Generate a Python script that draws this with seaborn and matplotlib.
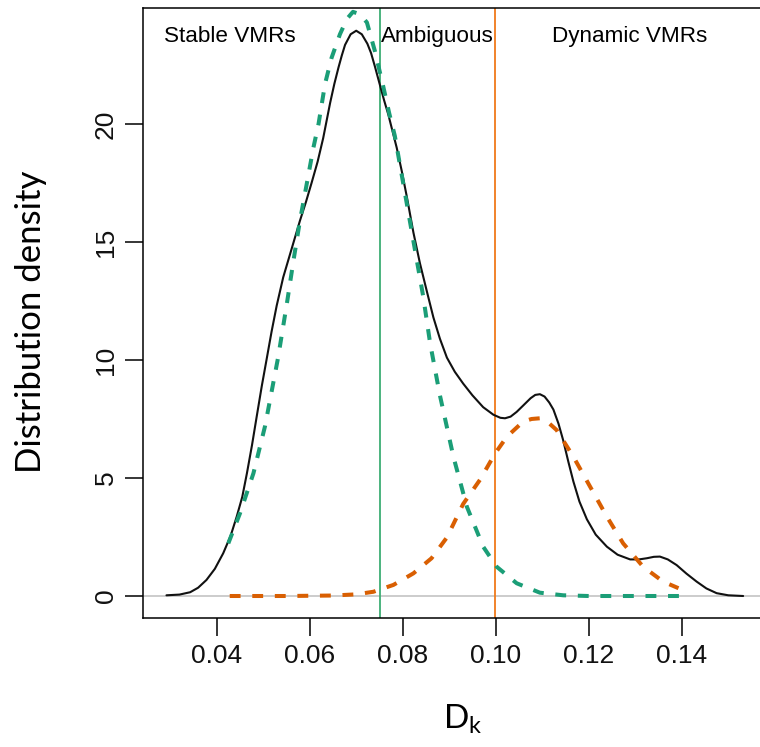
import numpy as np
import pandas as pd
import matplotlib
matplotlib.use("Agg")
import matplotlib.pyplot as plt
import seaborn as sns

# Overall density of D_k
kde_x = [0.0292, 0.0320, 0.0343, 0.0360, 0.0378, 0.0396, 0.0414, 0.0430, 0.0443,
         0.0455, 0.0465, 0.0476, 0.0486, 0.0497, 0.0508, 0.0518, 0.0529, 0.0543,
         0.0558, 0.0570, 0.0579, 0.0592, 0.0604, 0.0617, 0.0629, 0.0637, 0.0644,
         0.0653, 0.0662, 0.0669, 0.0676, 0.0688, 0.0700, 0.0712, 0.0724, 0.0732,
         0.0740, 0.0751, 0.0760, 0.0769, 0.0787, 0.0798, 0.0809, 0.0823, 0.0837,
         0.0852, 0.0866, 0.0880, 0.0895, 0.0912, 0.0930, 0.0950, 0.0973, 0.0995,
         0.1010, 0.1020, 0.1032, 0.1045, 0.1058, 0.1075, 0.1085, 0.1095, 0.1105,
         0.1115, 0.1124, 0.1135, 0.1145, 0.1156, 0.1167, 0.1180, 0.1196, 0.1215,
         0.1239, 0.1262, 0.1289, 0.1308, 0.1325, 0.1340, 0.1353, 0.1370, 0.1389,
         0.1410, 0.1432, 0.1453, 0.1475, 0.1500, 0.1532]
kde_y = [0.03, 0.06, 0.16, 0.35, 0.68, 1.15, 1.81, 2.55, 3.36,
         4.2, 5.2, 6.4, 7.6, 8.9, 10.1, 11.2, 12.3, 13.5,
         14.5, 15.3, 15.9, 16.7, 17.5, 18.4, 19.4, 20.2, 20.9,
         21.7, 22.4, 22.9, 23.35, 23.8, 23.95, 23.8, 23.4, 23.0,
         22.45, 21.65, 21.0, 20.4, 19.0, 18.0, 16.9, 15.4, 14.1,
         12.9, 11.8, 10.9, 10.1, 9.5, 9.0, 8.5, 8.0, 7.68,
         7.55, 7.53, 7.6, 7.8, 8.05, 8.38, 8.52, 8.55, 8.45,
         8.2, 7.9, 7.3, 6.6, 5.7, 4.85, 4.0, 3.25, 2.6,
         2.09, 1.75, 1.55, 1.55, 1.6, 1.66, 1.67, 1.55, 1.31,
         0.95, 0.61, 0.32, 0.12, 0.03, 0.0]

# Mixture component: stable VMRs
stable_x = [0.0425, 0.0450, 0.0479, 0.0504, 0.0532, 0.0551, 0.0565, 0.0579, 0.0594,
            0.0608, 0.0619, 0.0633, 0.0647, 0.0665, 0.0680, 0.0693, 0.0708, 0.0723,
            0.0740, 0.0758, 0.0771, 0.0783, 0.0809, 0.0826, 0.0844, 0.0859, 0.0880,
            0.0909, 0.0938, 0.0973, 0.1002, 0.1045, 0.1095, 0.1145, 0.1200, 0.1300,
            0.1396]
stable_y = [2.23, 3.5, 5.2, 7.2, 10.1, 12.4, 14.2, 15.9, 17.5,
            19.0, 20.0, 21.7, 22.8, 23.8, 24.45, 24.75, 24.65, 24.3,
            23.1, 21.6, 20.45, 19.5, 16.6, 14.7, 12.7, 10.7, 8.5,
            5.9, 3.78, 2.09, 1.24, 0.54, 0.14, 0.03, 0.0, 0.0,
            0.0]

# Mixture component: dynamic VMRs
dynamic_x = [0.0428, 0.0550, 0.0650, 0.0700, 0.0737, 0.0780, 0.0823, 0.0862, 0.0895,
             0.0930, 0.0966, 0.0999, 0.1024, 0.1059, 0.1077, 0.1095, 0.1113, 0.1131,
             0.1167, 0.1203, 0.1239, 0.1274, 0.1317, 0.1360, 0.1393]
dynamic_y = [0.0, 0.0, 0.02, 0.07, 0.18, 0.47, 0.96, 1.6, 2.48,
             3.9, 4.92, 6.05, 6.75, 7.39, 7.5, 7.53, 7.35, 7.03,
             5.9, 4.63, 3.36, 2.23, 1.24, 0.61, 0.33]

# Class thresholds on D_k
cut_stable = 0.0752
cut_dynamic = 0.0998

region_labels = ["Stable VMRs", "Ambiguous", "Dynamic VMRs"]
region_x = [0.0429, 0.0874, 0.1289]
region_y = 23.49

x_ticks = [0.04, 0.06, 0.08, 0.10, 0.12, 0.14]
x_ticklabels = ["0.04", "0.06", "0.08", "0.10", "0.12", "0.14"]
y_ticks = [0, 5, 10, 15, 20]

sns.set_theme(style="white")
plt.rcParams["font.family"] = ["Liberation Sans", "DejaVu Sans"]
plt.rcParams["mathtext.fontset"] = "custom"
plt.rcParams["mathtext.rm"] = "Lato"

GREEN = "#1B9E77"
ORANGE = "#D95F02"

fig = plt.figure(figsize=(7.6, 7.47), dpi=100)
W, H = 760, 747
AX_L, AX_R, AX_T, AX_B = 142.7, 765.0, 8.3, 618.0
ax = fig.add_axes([AX_L / W, (H - AX_B) / H, (AX_R - AX_L) / W, (AX_B - AX_T) / H])

ax.axhline(0, color="#BEBEBE", lw=1.1, zorder=1)

kde_df = pd.DataFrame({"x": kde_x, "y": kde_y})
stable_df = pd.DataFrame({"x": stable_x, "y": stable_y})
dynamic_df = pd.DataFrame({"x": dynamic_x, "y": dynamic_y})

sns.lineplot(data=kde_df, x="x", y="y", ax=ax, color="#111111", lw=1.5,
             estimator=None, zorder=3)
sns.lineplot(data=stable_df, x="x", y="y", ax=ax, color=GREEN, lw=2.9,
             estimator=None, zorder=4)
sns.lineplot(data=dynamic_df, x="x", y="y", ax=ax, color=ORANGE, lw=2.9,
             estimator=None, zorder=4)
for line in ax.lines[-2:]:
    line.set_dashes([2.7, 2.9])
    line.set_dash_capstyle("butt")
    line.set_solid_joinstyle("round")
ax.lines[-3].set_solid_joinstyle("round")

ax.axvline(cut_stable, color="#3DAE74", lw=1.3, zorder=2)
ax.axvline(cut_dynamic, color="#F07A1A", lw=1.3, zorder=2)

for label, xc in zip(region_labels, region_x):
    ax.text(xc, region_y, label, ha="center", va="baseline", fontsize=16.2,
            color="black", family=["Liberation Sans", "DejaVu Sans"])

ax.set_xlim(0.02409, 0.1579)
ax.set_ylim(-0.932, 24.90)
ax.set_xticks(x_ticks)
ax.set_xticklabels(x_ticklabels)
ax.set_yticks(y_ticks)

for side in ["left", "bottom", "top", "right"]:
    ax.spines[side].set_visible(True)
    ax.spines[side].set_color("black")
    ax.spines[side].set_linewidth(1.1)

ax.tick_params(axis="both", which="major", direction="out", length=13,
               width=1.1, color="black", labelsize=19, labelcolor="#111111",
               pad=6, bottom=True, left=True)
ax.tick_params(axis="y", pad=5)
for lab in ax.get_yticklabels():
    lab.set_rotation(90)
    lab.set_va("center")
    lab.set_ha("right")

ax.set_ylabel("Distribution density", fontsize=25, family=["Lato", "DejaVu Sans"],
              color="black")
ax.yaxis.set_label_coords((47 - AX_L) / (AX_R - AX_L), (AX_B - 322) / (AX_B - AX_T))
ax.set_xlabel(r"$\mathregular{D_k}$", fontsize=24, family=["Lato", "DejaVu Sans"],
              color="black")
ax.xaxis.set_label_coords((463 - AX_L) / (AX_R - AX_L), -(703 - AX_B) / (AX_B - AX_T))

fig.savefig("out.png", dpi=100)
